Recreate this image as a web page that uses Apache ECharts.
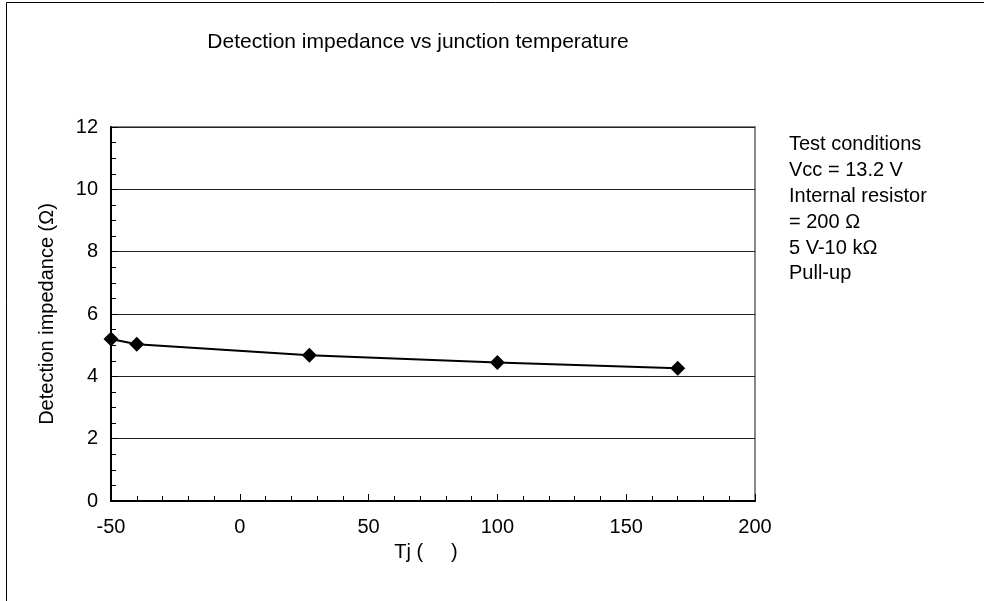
<!DOCTYPE html>
<html>
<head>
<meta charset="utf-8">
<script src="https://cdn.jsdelivr.net/npm/echarts@6/dist/echarts.min.js"></script>
<style>
html,body{margin:0;padding:0;background:#fff;}
#chart{width:984px;height:601px;}
</style>
</head>
<body>
<div id="chart"></div>
<script>
const titleText = 'Detection impedance vs junction temperature';
const xName = 'Tj (     )';
const yName = 'Detection impedance (\u03a9)';
const tempC = [-50, -40, 27, 100, 170];
const impedance = [5.2, 5.03, 4.68, 4.44, 4.26];
const noteLines = ['Test conditions', 'Vcc = 13.2 V', 'Internal resistor', '= 200 \u03a9', '5 V-10 k\u03a9', 'Pull-up'];

const font = '"Liberation Sans", Arial, sans-serif';
const chart = echarts.init(document.getElementById('chart'));
chart.setOption({
  animation: false,
  backgroundColor: '#fff',
  title: {
    text: titleText, left: 413, top: 27, textAlign: 'center',
    textStyle: {fontFamily: font, fontSize: 21, fontWeight: 'normal', color: '#000'}
  },
  graphic: [
    {type: 'rect', left: 4, top: 0, shape: {width: 1000, height: 620}, style: {fill: 'none', stroke: '#000', lineWidth: 1}, silent: true},
    {type: 'text', left: 789, top: 132, style: {text: noteLines.join('\n'), fontFamily: font, fontSize: 20, lineHeight: 25.8, fill: '#000'}}
  ],
  grid: {left: 111, right: 229, top: 127, bottom: 100, show: true, borderColor: '#888', borderWidth: 2, backgroundColor: '#fff'},
  xAxis: {
    type: 'value', min: -50, max: 200, interval: 50,
    name: xName, nameLocation: 'middle', nameGap: 41,
    nameTextStyle: {fontFamily: font, fontSize: 20, color: '#000', padding: [0, 14, 0, 0]},
    axisLine: {show: true, onZero: false, lineStyle: {color: '#000', width: 2}},
    axisTick: {show: true, inside: true, length: 7, lineStyle: {color: '#000', width: 1}},
    minorTick: {show: true, splitNumber: 5, length: 5, lineStyle: {color: '#000', width: 1}},
    axisLabel: {fontFamily: font, fontSize: 20, color: '#000', margin: 16},
    splitLine: {show: false}
  },
  yAxis: {
    type: 'value', min: 0, max: 12, interval: 2,
    name: yName, nameLocation: 'middle', nameGap: 54,
    nameTextStyle: {fontFamily: font, fontSize: 20, color: '#000'},
    axisLine: {show: true, onZero: false, lineStyle: {color: '#000', width: 2}},
    axisTick: {show: true, inside: true, length: 7, lineStyle: {color: '#000', width: 1}},
    minorTick: {show: true, splitNumber: 4, length: 5, lineStyle: {color: '#000', width: 1}},
    axisLabel: {fontFamily: font, fontSize: 20, color: '#000', margin: 13},
    splitLine: {show: true, lineStyle: {color: '#222', width: 1}}
  },
  series: [{
    type: 'line',
    data: tempC.map((t, i) => [t, impedance[i]]),
    symbol: 'diamond', symbolSize: 15,
    lineStyle: {color: '#000', width: 2},
    itemStyle: {color: '#000'},
    clip: false
  }]
});
</script>
</body>
</html>
